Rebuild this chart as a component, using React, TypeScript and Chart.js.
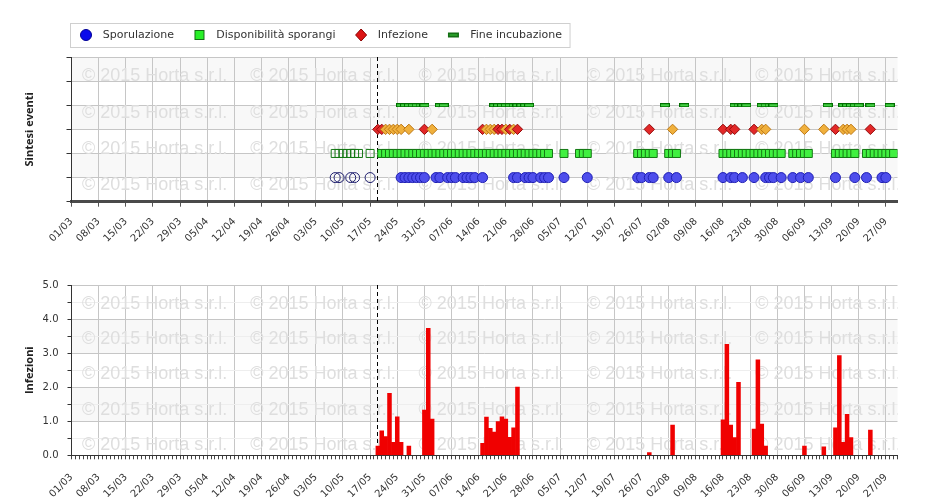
import React, { useEffect, useRef } from 'react';
import { Chart, registerables } from 'chart.js';

Chart.register(...registerables);

// ---------- DATA ----------
// x positions are days counted from 01/03 (01/03 = 0)
const tickLabels = [
  '01/03', '08/03', '15/03', '22/03', '29/03', '05/04', '12/04', '19/04', '26/04',
  '03/05', '10/05', '17/05', '24/05', '31/05', '07/06', '14/06', '21/06', '28/06',
  '05/07', '12/07', '19/07', '26/07', '02/08', '09/08', '16/08', '23/08', '30/08',
  '06/09', '13/09', '20/09', '27/09',
];
const tickStepDays = 7;
const lastDay = 213; // 30/09
const oggiGiorno = 78.9; // dashed "today" marker

const seriesNames = ['Sporulazione', 'Disponibilità sporangi', 'Infezione', 'Fine incubazione'];
const seriesRows = [1, 2, 3, 4];

const sporulazioneGiorni = [
  68, 69, 72, 73, 77,
  85, 86, 87, 88, 89, 90, 91,
  94, 95, 97, 98, 99, 101, 102, 103, 104, 106,
  114, 115, 117, 118, 119, 121, 122, 123, 127, 133,
  146, 147, 149, 150, 154, 156,
  168, 170, 171, 173, 176, 179, 180, 181, 183, 186, 188, 190, 197, 202, 205, 209, 210,
];
const disponibilitaGiorni = [
  68, 69, 70, 71, 72, 73, 74, 77,
  80, 81, 82, 83, 84, 85, 86, 87, 88, 89, 90, 91, 92, 93, 94, 95, 96, 97, 98, 99, 100, 101,
  102, 103, 104, 105, 106, 107, 108, 109, 110, 111, 112, 113, 114, 115, 116, 117, 118, 119,
  120, 121, 122, 123, 127, 131, 132, 133,
  146, 147, 148, 149, 150, 154, 155, 156,
  168, 169, 170, 171, 172, 173, 174, 175, 176, 177, 178, 179, 180, 181, 182, 183,
  186, 187, 188, 189, 190, 197, 198, 199, 200, 201, 202,
  205, 206, 207, 208, 209, 210, 211, 212,
];
const infezioneRossaGiorni = [79, 80, 91, 106, 110, 111, 113, 115, 149, 168, 170, 171, 176, 197, 206];
const infezioneArancioGiorni = [81, 82, 83, 84, 85, 87, 93, 107, 108, 109, 112, 114, 155, 178, 179, 189, 194, 199, 200, 201];
const fineIncubazioneGiorni = [
  85, 86, 87, 88, 89, 90, 91, 95, 96,
  109, 110, 111, 112, 113, 114, 115, 116, 117, 118,
  153, 158, 171, 172, 173, 174, 178, 179, 180, 181, 195, 199, 200, 201, 202, 203, 206, 211,
];

const infezioniGiorni = [
  79, 80, 81, 82, 83, 84, 85, 87, 91, 92, 93,
  106, 107, 108, 109, 110, 111, 112, 113, 114, 115,
  149, 155, 168, 169, 170, 171, 172, 176, 177, 178, 179,
  189, 194, 197, 198, 199, 200, 201, 206,
];
const infezioniValori = [
  0.27, 0.72, 0.55, 1.82, 0.38, 1.13, 0.38, 0.27, 1.33, 3.73, 1.06,
  0.35, 1.12, 0.79, 0.68, 0.99, 1.13, 1.06, 0.53, 0.81, 2.0,
  0.08, 0.89, 1.04, 3.26, 0.89, 0.52, 2.14, 0.77, 2.8, 0.92, 0.27,
  0.27, 0.25, 0.81, 2.93, 0.38, 1.2, 0.52, 0.74,
];
const yTickLabels = ['0.0', '1.0', '2.0', '3.0', '4.0', '5.0'];
const watermarkText = '© 2015 Horta s.r.l.';

// ---------- STYLES ----------
const FONT = '"DejaVu Sans", Verdana, sans-serif';
const TITLE_FONT = '"Open Sans", "DejaVu Sans", sans-serif';
const GRID = '#c6c6c6';
const BLUE_FILL = 'rgb(78,78,236)';
const BLUE_BORDER = 'rgb(30,30,180)';
const HOLLOW_BLUE = 'rgb(30,30,110)';
const GREEN_FILL = 'rgb(64,240,64)';
const GREEN_BORDER = 'rgb(20,120,20)';
const RED_FILL = 'rgb(226,40,40)';
const RED_BORDER = 'rgb(150,10,10)';
const ORANGE_FILL = 'rgb(240,176,60)';
const ORANGE_BORDER = 'rgb(190,120,20)';
const BAR_RED = 'rgb(240,0,0)';

const bandsPlugin = {
  id: 'bands',
  beforeDraw(chart: any, _a: any, opts: any) {
    const { ctx, chartArea: a, scales } = chart;
    const y = scales.y;
    ctx.save();
    ctx.fillStyle = '#fff';
    ctx.fillRect(0, 0, chart.width, chart.height);
    let idx = 0;
    for (let v = y.min; v < y.max - 1e-9; v += opts.step, idx++) {
      if (idx % 2 === opts.parity) {
        const t = y.getPixelForValue(v + opts.step);
        const b = y.getPixelForValue(v);
        ctx.fillStyle = opts.color;
        ctx.fillRect(a.left, t, a.right - a.left, b - t);
      }
    }
    ctx.restore();
  },
};

const watermarkPlugin = {
  id: 'watermark',
  beforeDatasetsDraw(chart: any, _a: any, opts: any) {
    const { ctx, chartArea: a } = chart;
    ctx.save();
    ctx.beginPath();
    ctx.rect(a.left, a.top, a.right - a.left, a.bottom - a.top);
    ctx.clip();
    ctx.font = '18px "Liberation Sans", Arial, sans-serif';
    ctx.fillStyle = '#dedede';
    ctx.textBaseline = 'alphabetic';
    for (let r = 0; r < opts.rows; r++) {
      for (let c = 0; c < opts.cols; c++) {
        ctx.fillText(watermarkText, a.left + opts.x0 + c * opts.dx, a.top + opts.y0 + r * opts.dy);
      }
    }
    // today marker
    const x = Math.round(chart.scales.x.getPixelForValue(oggiGiorno)) + 0.5;
    ctx.strokeStyle = '#000';
    ctx.lineWidth = 1;
    ctx.setLineDash([4, 3]);
    ctx.beginPath();
    ctx.moveTo(x, a.top);
    ctx.lineTo(x, a.bottom);
    ctx.stroke();
    ctx.restore();
  },
};

function drawSymbol(ctx: CanvasRenderingContext2D, kind: string, x: number, y: number) {
  ctx.save();
  ctx.lineWidth = 1;
  if (kind === 'circle') {
    ctx.beginPath();
    ctx.arc(x, y, 5.5, 0, Math.PI * 2);
    ctx.fillStyle = 'rgb(10,10,235)';
    ctx.fill();
    ctx.strokeStyle = 'rgb(0,0,150)';
    ctx.stroke();
  } else if (kind === 'square') {
    ctx.fillStyle = 'rgb(40,240,40)';
    ctx.fillRect(x - 4.5, y - 4.5, 9, 9);
    ctx.strokeStyle = 'rgb(20,110,20)';
    ctx.strokeRect(x - 4.5, y - 4.5, 9, 9);
  } else if (kind === 'diamond') {
    ctx.beginPath();
    ctx.moveTo(x, y - 6);
    ctx.lineTo(x + 5.5, y);
    ctx.lineTo(x, y + 6);
    ctx.lineTo(x - 5.5, y);
    ctx.closePath();
    ctx.fillStyle = 'rgb(220,20,20)';
    ctx.fill();
    ctx.strokeStyle = 'rgb(140,0,0)';
    ctx.stroke();
  } else {
    ctx.fillStyle = 'rgb(20,110,20)';
    ctx.fillRect(x - 5.5, y - 2.5, 11, 5);
    ctx.fillStyle = 'rgb(60,200,60)';
    ctx.fillRect(x - 4, y - 0.5, 8, 1);
  }
  ctx.restore();
}

const legendPlugin = {
  id: 'boxLegend',
  afterDraw(chart: any, _a: any, opts: any) {
    const ctx: CanvasRenderingContext2D = chart.ctx;
    ctx.save();
    ctx.font = '11px ' + FONT;
    ctx.textBaseline = 'middle';
    const cy = opts.top + opts.height / 2;
    let x = opts.left + opts.firstSymbol;
    const pos: any[] = [];
    seriesNames.forEach((label) => {
      const tw = ctx.measureText(label).width;
      pos.push({ x, tx: x + opts.textGap, tw });
      x = x + opts.textGap + tw + opts.itemGap;
    });
    const last = pos[pos.length - 1];
    const right = last.tx + last.tw + opts.endPad;
    ctx.fillStyle = '#fff';
    ctx.fillRect(opts.left, opts.top, right - opts.left, opts.height);
    ctx.strokeStyle = '#cfcfcf';
    ctx.lineWidth = 1;
    ctx.strokeRect(opts.left + 0.5, opts.top + 0.5, right - opts.left, opts.height);
    const kinds = ['circle', 'square', 'diamond', 'dash'];
    seriesNames.forEach((label, i) => {
      drawSymbol(ctx, kinds[i], pos[i].x, cy);
      ctx.fillStyle = '#333';
      ctx.fillText(label, pos[i].tx, cy + 0.5);
    });
    ctx.restore();
  },
};

function makeDash(): HTMLCanvasElement {
  const c = document.createElement('canvas');
  c.width = 10;
  c.height = 4;
  const g = c.getContext('2d')!;
  g.fillStyle = 'rgb(70,210,70)';
  g.fillRect(0, 0, 10, 4);
  g.strokeStyle = 'rgb(0,110,0)';
  g.lineWidth = 1;
  g.strokeRect(0.5, 0.5, 9, 3);
  return c;
}

const xTickFont = { family: FONT, size: 10 };

export default function App() {
  const topRef = useRef<HTMLCanvasElement>(null);
  const botRef = useRef<HTMLCanvasElement>(null);

  useEffect(() => {
    const dash = makeDash();
    const isPast = (c: any) => c.raw && c.raw.x < oggiGiorno;

    const infezionePunti = [
      ...infezioneRossaGiorni.map((d) => ({ x: d, y: seriesRows[2], kind: 'r' })),
      ...infezioneArancioGiorni.map((d) => ({ x: d, y: seriesRows[2], kind: 'o' })),
    ].sort((a, b) => a.x - b.x);

    const top = new Chart(topRef.current!, {
      type: 'scatter',
      data: {
        datasets: [
          {
            label: seriesNames[0],
            data: sporulazioneGiorni.map((d) => ({ x: d, y: seriesRows[0] })),
            pointStyle: 'circle',
            pointRadius: 5,
            pointBorderWidth: 1,
            pointBackgroundColor: (c: any) => (isPast(c) ? 'rgba(0,0,0,0)' : BLUE_FILL),
            pointBorderColor: (c: any) => (isPast(c) ? HOLLOW_BLUE : BLUE_BORDER),
          },
          {
            label: seriesNames[1],
            data: disponibilitaGiorni.map((d) => ({ x: d, y: seriesRows[1] })),
            pointStyle: 'rect',
            pointRadius: 5.66,
            pointBorderWidth: 1,
            pointBackgroundColor: (c: any) => (isPast(c) ? 'rgba(0,0,0,0)' : GREEN_FILL),
            pointBorderColor: GREEN_BORDER,
          },
          {
            label: seriesNames[2],
            data: infezionePunti,
            pointStyle: 'rectRot',
            pointRadius: 5.2,
            pointBorderWidth: 1,
            pointBackgroundColor: (c: any) => (c.raw && c.raw.kind === 'r' ? RED_FILL : ORANGE_FILL),
            pointBorderColor: (c: any) => (c.raw && c.raw.kind === 'r' ? RED_BORDER : ORANGE_BORDER),
          },
          {
            label: seriesNames[3],
            data: fineIncubazioneGiorni.map((d) => ({ x: d, y: seriesRows[3] })),
            pointStyle: dash as any,
            pointRadius: 5,
          },
        ] as any,
      },
      options: {
        responsive: false,
        animation: false,
        devicePixelRatio: 1,
        events: [],
        layout: { padding: { top: 57, right: 28.5, left: 0, bottom: 0 } },
        plugins: {
          legend: { display: false },
          tooltip: { enabled: false },
          bands: { step: 1, parity: 1, color: '#f8f8f8' },
          watermark: { rows: 4, cols: 5, x0: 10.5, dx: 168.3, y0: 24.4, dy: 36.1 },
          boxLegend: { left: 70, top: 23, height: 24, firstSymbol: 16, textGap: 16.7, itemGap: 25.5, endPad: 7.5 },
        } as any,
        scales: {
          x: {
            type: 'linear',
            min: 0,
            max: lastDay,
            afterBuildTicks: (s: any) => {
              s.ticks = tickLabels.map((_, i) => ({ value: i * tickStepDays }));
            },
            afterFit: (s: any) => {
              s.height = 68.3;
            },
            ticks: {
              autoSkip: false,
              minRotation: 45,
              maxRotation: 45,
              padding: 9,
              color: '#333',
              font: xTickFont,
              callback: (_v: any, i: number) => tickLabels[i] ?? '',
            },
            grid: { color: GRID, tickColor: '#555', tickLength: 5 },
            border: { color: '#4a4a4a', width: 3 },
          },
          y: {
            type: 'linear',
            min: 0,
            max: 6,
            afterBuildTicks: (s: any) => {
              s.ticks = [0, 1, 2, 3, 4, 5, 6].map((v) => ({ value: v }));
            },
            afterFit: (s: any) => {
              s.width = 71.5;
            },
            ticks: { callback: () => '' },
            grid: { color: GRID, tickColor: '#333', tickLength: 5 },
            border: { color: '#333', width: 1 },
            title: {
              display: true,
              text: 'Sintesi eventi',
              color: '#222',
              font: { family: TITLE_FONT, size: 11, weight: 'bold' },
              padding: { top: 23, bottom: 0 },
            },
          },
        },
      },
      plugins: [bandsPlugin, watermarkPlugin, legendPlugin],
    } as any);

    const bottom = new Chart(botRef.current!, {
      type: 'bar',
      data: {
        datasets: [
          {
            label: 'Infezioni',
            data: infezioniGiorni.map((d, i) => ({ x: d, y: infezioniValori[i] })),
            backgroundColor: BAR_RED,
            borderWidth: 0,
            barPercentage: 1,
            categoryPercentage: 1,
          },
        ],
      },
      options: {
        responsive: false,
        animation: false,
        devicePixelRatio: 1,
        events: [],
        layout: { padding: { top: 15, right: 28.5, left: 0, bottom: 0 } },
        plugins: {
          legend: { display: false },
          tooltip: { enabled: false },
          bands: { step: 1, parity: 1, color: '#f8f8f8' },
          watermark: { rows: 5, cols: 5, x0: 10.5, dx: 168.3, y0: 23.9, dy: 35.2 },
        } as any,
        scales: {
          x: {
            type: 'linear',
            min: 0,
            max: lastDay,
            offset: false,
            afterBuildTicks: (s: any) => {
              s.ticks = Array.from({ length: lastDay + 1 }, (_, i) => ({ value: i }));
            },
            afterFit: (s: any) => {
              s.height = 47.7;
            },
            ticks: {
              autoSkip: false,
              minRotation: 45,
              maxRotation: 45,
              padding: 12,
              color: '#333',
              font: xTickFont,
              callback: (v: any) => (v % tickStepDays === 0 ? tickLabels[v / tickStepDays] ?? '' : ''),
            },
            grid: {
              offset: false,
              color: (c: any) => (c.tick && c.tick.value % tickStepDays === 0 ? GRID : 'rgba(0,0,0,0)'),
              tickColor: '#444',
              tickLength: 4,
            },
            border: { color: '#333', width: 1 },
          },
          y: {
            type: 'linear',
            min: 0,
            max: 5,
            afterBuildTicks: (s: any) => {
              s.ticks = Array.from({ length: 51 }, (_, i) => ({ value: i / 10 }));
            },
            afterFit: (s: any) => {
              s.width = 71.5;
            },
            ticks: {
              padding: 9,
              color: '#333',
              font: { family: FONT, size: 10 },
              callback: (_v: any, i: number) => (i % 10 === 0 ? yTickLabels[i / 10] : ''),
            },
            grid: {
              color: (c: any) => (c.index % 10 === 0 ? GRID : '#eeeeee'),
              tickColor: '#333',
              tickLength: 4,
            },
            border: { color: '#333', width: 1 },
            title: {
              display: true,
              text: 'Infezioni',
              color: '#222',
              font: { family: TITLE_FONT, size: 11, weight: 'bold' },
              padding: { top: 23, bottom: 0 },
            },
          },
        },
      },
      plugins: [bandsPlugin, watermarkPlugin],
    } as any);

    return () => {
      top.destroy();
      bottom.destroy();
    };
  }, []);

  return (
    <div style={{ position: 'absolute', left: 0, top: 0, width: 926, height: 503, background: '#fff' }}>
      <canvas ref={topRef} width={926} height={270} style={{ display: 'block', width: 926, height: 270 }} />
      <canvas ref={botRef} width={926} height={233} style={{ display: 'block', width: 926, height: 233 }} />
    </div>
  );
}
